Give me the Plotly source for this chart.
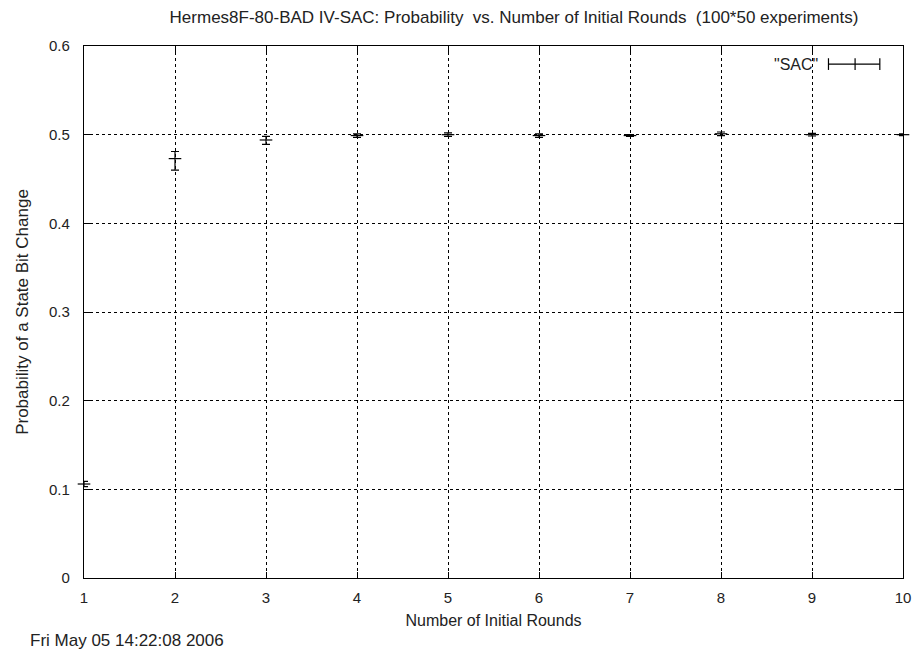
import plotly.graph_objects as go

rounds = [1, 2, 3, 4, 5, 6, 7, 8, 9, 10]
prob = [0.106, 0.473, 0.494, 0.499, 0.500, 0.499, 0.499, 0.501, 0.500, 0.500]
prob_low = [0.103, 0.460, 0.489, 0.497, 0.498, 0.497, 0.498, 0.499, 0.4985, 0.499]
prob_high = [0.109, 0.481, 0.498, 0.501, 0.502, 0.501, 0.500, 0.503, 0.5015, 0.501]

err_plus = [h - p for h, p in zip(prob_high, prob)]
err_minus = [p - l for p, l in zip(prob, prob_low)]

FONT = "Liberation Sans, Arial, sans-serif"
TXT = "#222"

fig = go.Figure()
fig.add_trace(go.Scatter(
    x=rounds, y=prob, mode="markers", name='"SAC"',
    marker=dict(symbol="line-ew", size=9, line=dict(color="black", width=1.2), color="black"),
    error_y=dict(type="data", symmetric=False, array=err_plus, arrayminus=err_minus,
                 color="black", thickness=1.2, width=4),
    cliponaxis=False, showlegend=False,
))

axis_common = dict(
    showline=True, linecolor="black", linewidth=1.2, mirror="ticks",
    ticks="inside", ticklen=6, tickcolor="black",
    showgrid=True, gridcolor="black", griddash="dot", gridwidth=1,
    zeroline=False, tickfont=dict(family=FONT, size=15, color=TXT),
)

fig.update_layout(
    width=915, height=642,
    margin=dict(l=76, r=13, t=38, b=72),
    paper_bgcolor="white", plot_bgcolor="white",
    font=dict(family=FONT, size=15, color=TXT),
    title=dict(text="Hermes8F-80-BAD IV-SAC: Probability  vs. Number of Initial Rounds  (100*50 experiments)",
               x=0.553, xanchor="center", y=0.986, yanchor="middle",
               font=dict(family=FONT, size=17, color=TXT)),
    xaxis=dict(range=[1, 10], dtick=1, tick0=1, ticklabelstandoff=6,
               title=dict(text="Number of Initial Rounds", standoff=9,
                          font=dict(family=FONT, size=16, color=TXT)),
               **axis_common),
    yaxis=dict(range=[0, 0.6], dtick=0.1, tick0=0, ticklabelstandoff=10,
               title=dict(text="Probability of a State Bit Change", standoff=16,
                          font=dict(family=FONT, size=17, color=TXT)),
               **axis_common),
)

# Legend (gnuplot-style key)
ly = 0.966
fig.add_annotation(xref="paper", yref="paper", x=0.899, y=ly, text='"SAC"',
                   showarrow=False, xanchor="right", yanchor="middle",
                   font=dict(family=FONT, size=16, color=TXT))
fig.add_shape(type="line", xref="paper", yref="paper", x0=0.909, x1=0.9717, y0=ly, y1=ly,
              line=dict(color="black", width=1.2))
for xx in (0.909, 0.9415, 0.9717):
    fig.add_shape(type="line", xref="paper", yref="paper", x0=xx, x1=xx, y0=ly - 0.011, y1=ly + 0.011,
                  line=dict(color="black", width=1.2))

# Timestamp
fig.add_annotation(xref="paper", yref="paper", x=-0.068, y=-0.118, text="Fri May 05 14:22:08 2006",
                   showarrow=False, xanchor="left", yanchor="middle",
                   font=dict(family=FONT, size=17, color=TXT))

fig.write_html("out.html")
